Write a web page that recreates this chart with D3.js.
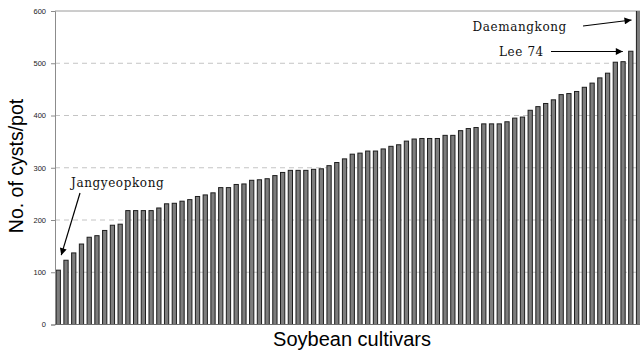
<!DOCTYPE html>
<html>
<head>
<meta charset="utf-8">
<script src="https://cdn.jsdelivr.net/npm/d3@7"></script>
<style>
  html, body { margin: 0; padding: 0; background: #fff; }
  svg { display: block; }
</style>
</head>
<body>
<svg id="chart" width="640" height="352"></svg>
<script>
// Cyst counts per pot for each soybean cultivar, sorted ascending
const cultivarIndex = d3.range(76);
const cystCounts = [
  104, 123, 137, 154, 167, 170, 180, 190, 192, 218,
  218, 218, 218, 223, 231, 232, 236, 239, 245, 248,
  252, 262, 262, 268, 269, 276, 277, 279, 285, 291,
  295, 295, 295, 297, 298, 304, 310, 317, 326, 328,
  332, 332, 336, 341, 344, 351, 355, 356, 356, 356,
  362, 362, 371, 375, 377, 384, 384, 384, 388, 395,
  397, 410, 417, 423, 430, 440, 442, 446, 454, 462,
  472, 481, 502, 503, 523, 620
];
const yTicks = [0, 100, 200, 300, 400, 500, 600];
const gridTicks = [100, 200, 300, 400, 500];

// Named cultivars and their arrow callouts
const callouts = [
  { name: "Jangyeopkong", idx: 0 },
  { name: "Lee 74", idx: 74 },
  { name: "Daemangkong", idx: 75 }
];

const svg = d3.select("#chart");
const plotLeft = 55, plotRight = 640, plotTop = 11, plotBottom = 324.5;

const x = d3.scaleBand()
  .domain(cultivarIndex)
  .range([54.4, 642.4])
  .paddingInner(0.45)
  .paddingOuter(0.225);

const y = d3.scaleLinear().domain([0, 600]).range([plotBottom, plotTop]);

const defs = svg.append("defs");
defs.append("clipPath").attr("id", "plotClip")
  .append("rect").attr("x", plotLeft).attr("y", plotTop)
  .attr("width", 660 - plotLeft).attr("height", plotBottom - plotTop);

// dashed horizontal gridlines
svg.append("g").selectAll("line").data(gridTicks).join("line")
  .attr("x1", plotLeft).attr("x2", plotRight)
  .attr("y1", d => y(d)).attr("y2", d => y(d))
  .attr("stroke", "#c4c4c4").attr("stroke-width", 1)
  .attr("stroke-dasharray", "5,4");

// plot top border
svg.append("line")
  .attr("x1", plotLeft).attr("x2", plotRight)
  .attr("y1", y(600)).attr("y2", y(600))
  .attr("stroke", "#9a9a9a").attr("stroke-width", 1);

// bars
svg.append("g").attr("clip-path", "url(#plotClip)")
  .selectAll("rect").data(cystCounts).join("rect")
  .attr("x", (d, i) => x(i))
  .attr("width", x.bandwidth())
  .attr("y", d => y(d))
  .attr("height", d => y(0) - y(d))
  .attr("fill", "#7d7d7d")
  .attr("stroke", "#1e1e1e")
  .attr("stroke-width", 1);

// y axis
const yAxis = svg.append("g")
  .attr("transform", `translate(${plotLeft},0)`)
  .call(d3.axisLeft(y).tickValues(yTicks).tickSize(4).tickPadding(5));
yAxis.select(".domain").attr("stroke", "#8c8c8c");
yAxis.selectAll(".tick line").attr("stroke", "#8c8c8c");
yAxis.selectAll(".tick text")
  .attr("font-family", "Liberation Sans, Arial, sans-serif")
  .attr("font-size", 7.5).attr("fill", "#222");

// x axis baseline
svg.append("line")
  .attr("x1", plotLeft).attr("x2", plotRight)
  .attr("y1", y(0)).attr("y2", y(0))
  .attr("stroke", "#6e6e6e").attr("stroke-width", 1);

// axis titles
svg.append("text")
  .attr("transform", "translate(23,166) rotate(-90)")
  .attr("text-anchor", "middle")
  .attr("font-family", "Liberation Sans, Arial, sans-serif")
  .attr("font-size", 19.5).attr("fill", "#000")
  .text("No. of cysts/pot");

svg.append("text")
  .attr("x", 352).attr("y", 346)
  .attr("text-anchor", "middle")
  .attr("font-family", "Liberation Sans, Arial, sans-serif")
  .attr("font-size", 20).attr("fill", "#000")
  .text("Soybean cultivars");

// arrowhead marker
defs.append("marker")
  .attr("id", "arrow")
  .attr("viewBox", "0 0 10 10")
  .attr("refX", 10).attr("refY", 5)
  .attr("markerWidth", 9).attr("markerHeight", 7)
  .attr("markerUnits", "userSpaceOnUse")
  .attr("orient", "auto")
  .append("path").attr("d", "M0,0 L10,5 L0,10 Z").attr("fill", "#000");

const cx = i => x(i) + x.bandwidth() / 2;
const labelFont = "DejaVu Serif, Liberation Serif, serif";

// Jangyeopkong: label above, arrow down to the shortest bar
const jang = callouts[0];
svg.append("text")
  .attr("x", 71).attr("y", 187)
  .attr("font-family", labelFont).attr("font-size", 12)
  .attr("letter-spacing", 0.6).attr("fill", "#111")
  .text(jang.name);
svg.append("line")
  .attr("x1", 80).attr("y1", 193)
  .attr("x2", cx(jang.idx) + 3).attr("y2", y(cystCounts[jang.idx]) - 15)
  .attr("stroke", "#000").attr("stroke-width", 1.2)
  .attr("marker-end", "url(#arrow)");

// Lee 74: label with arrow pointing right to its bar
const lee = callouts[1];
svg.append("text")
  .attr("x", 499).attr("y", 56)
  .attr("font-family", labelFont).attr("font-size", 12)
  .attr("letter-spacing", 0.6).attr("fill", "#111")
  .text(lee.name);
svg.append("line")
  .attr("x1", 551).attr("y1", 51.5)
  .attr("x2", cx(lee.idx) - 8).attr("y2", 51.5)
  .attr("stroke", "#000").attr("stroke-width", 1.2)
  .attr("marker-end", "url(#arrow)");

// Daemangkong: label with arrow pointing up-right to the tallest bar
const dae = callouts[2];
svg.append("text")
  .attr("x", 472.5).attr("y", 30.5)
  .attr("font-family", labelFont).attr("font-size", 12)
  .attr("letter-spacing", 0.6).attr("fill", "#111")
  .text(dae.name);
svg.append("line")
  .attr("x1", 583).attr("y1", 26)
  .attr("x2", cx(dae.idx) - 7).attr("y2", 20)
  .attr("stroke", "#000").attr("stroke-width", 1.2)
  .attr("marker-end", "url(#arrow)");
</script>
</body>
</html>
